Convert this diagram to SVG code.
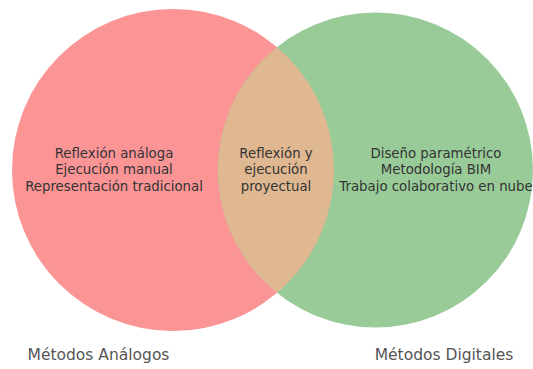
<svg xmlns="http://www.w3.org/2000/svg" width="533" height="369" viewBox="0 0 533 369">
<defs>
<clipPath id="clipA"><circle cx="173" cy="170" r="161"/></clipPath>
</defs>
<style>
.t{font-family:"DejaVu Sans",sans-serif;font-size:13.3px;fill:#333;text-anchor:middle}
.lbl{font-family:"DejaVu Sans",sans-serif;font-size:15.5px;fill:#555;text-anchor:middle}
</style>
<rect width="533" height="369" fill="#fff"/>
<g id="analogos">
<circle cx="173" cy="170" r="161" fill="#fb9595"/>
</g>
<g id="digitales">
<circle cx="375.5" cy="170" r="157.5" fill="#99cb98"/>
</g>
<g id="interseccion">
<circle cx="375.5" cy="170" r="157.5" fill="#dfb892" clip-path="url(#clipA)"/>
</g>
<g id="textos">
<text class="t" x="114" y="157.5">Reflexión análoga</text>
<text class="t" x="114" y="174">Ejecución manual</text>
<text class="t" x="114" y="190.5">Representación tradicional</text>
<text class="t" x="276" y="157.5">Reflexión y</text>
<text class="t" x="276" y="174">ejecución</text>
<text class="t" x="276" y="190.5">proyectual</text>
<text class="t" x="436" y="157.5">Diseño paramétrico</text>
<text class="t" x="436" y="174">Metodología BIM</text>
<text class="t" x="436" y="190.5">Trabajo colaborativo en nube</text>
</g>
<g id="etiquetas">
<text class="lbl" x="98.5" y="360">Métodos Análogos</text>
<text class="lbl" x="444" y="360">Métodos Digitales</text>
</g>
</svg>
